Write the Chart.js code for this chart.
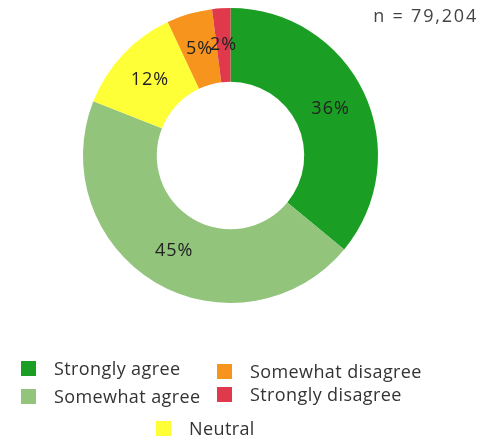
<!DOCTYPE html>
<html>
<head>
<meta charset="utf-8">
<script src="https://cdn.jsdelivr.net/npm/chart.js@4"></script>
<style>
    html, body { margin: 0; padding: 0; background: #fff; }
    #wrap { position: relative; width: 486px; height: 446px; font-family: "Open Sans", sans-serif; color: #333; }
    #chart { position: absolute; left: 0; top: 0; }
    #nLabel { position: absolute; right: 8px; top: 3px; font-size: 18px; letter-spacing: 1.8px; color: #444; }
    .item { position: absolute; font-size: 18px; letter-spacing: 0.4px; white-space: nowrap; }
    .item span.box { position: absolute; left: 0; width: 15px; height: 15px; }
    .item span.txt { position: absolute; left: 33px; top: 0; line-height: 20px; }
</style>
</head>
<body>
<div id="wrap">
    <canvas id="chart" width="486" height="446"></canvas>
    <div id="nLabel"></div>
    <div id="legend"></div>
</div>
<script>
const categories = ['Strongly agree', 'Somewhat agree', 'Neutral', 'Somewhat disagree', 'Strongly disagree'];
const percents = [36, 45, 12, 5, 2];
const colors = ['#1a9e23', '#92c47c', '#ffff38', '#f7941e', '#e0394b'];
const sampleSize = 'n = 79,204';

// legend is not in the usual Chart.js flow, so it's placed by hand
const legendSpots = [
    { x: 21, y: 358 },   // Strongly agree
    { x: 21, y: 386 },   // Somewhat agree
    { x: 156, y: 418 },  // Neutral
    { x: 217, y: 361 },  // Somewhat disagree
    { x: 217, y: 384 }   // Strongly disagree
];

function buildLegend() {
    const legend = document.getElementById('legend');
    categories.forEach((name, i) => {
        const div = document.createElement('div');
        div.className = 'item';
        div.style.left = legendSpots[i].x + 'px';
        div.style.top = legendSpots[i].y + 'px';
        div.innerHTML = '<span class="box" style="top:3px;background:' + colors[i] + '"></span>' +
            '<span class="txt">' + name + '</span>';
        legend.appendChild(div);
    });
    document.getElementById('nLabel').textContent = sampleSize;
}

// percentage labels in the middle of each ring segment
const sliceLabels = {
    id: 'sliceLabels',
    afterDatasetsDraw(chart) {
        const ctx = chart.ctx;
        const meta = chart.getDatasetMeta(0);
        ctx.save();
        ctx.font = '18px "Open Sans", sans-serif';
        ctx.letterSpacing = '1px';
        ctx.fillStyle = '#222';
        ctx.textAlign = 'center';
        ctx.textBaseline = 'middle';
        meta.data.forEach((arc, i) => {
            const p = arc.tooltipPosition();
            ctx.fillText(percents[i] + '%', p.x, p.y);
        });
        ctx.restore();
    }
};

function drawChart() {
    const ctx = document.getElementById('chart').getContext('2d');
    new Chart(ctx, {
        type: 'doughnut',
        data: {
            labels: categories,
            datasets: [{
                data: percents,
                backgroundColor: colors,
                borderWidth: 0
            }]
        },
        options: {
            responsive: false,
            animation: false,
            cutout: '50%',
            layout: { padding: { left: 83, right: 108, top: 8, bottom: 143 } },
            plugins: {
                legend: { display: false },
                tooltip: { enabled: false }
            }
        },
        plugins: [sliceLabels]
    });
}

buildLegend();
drawChart();
</script>
</body>
</html>
